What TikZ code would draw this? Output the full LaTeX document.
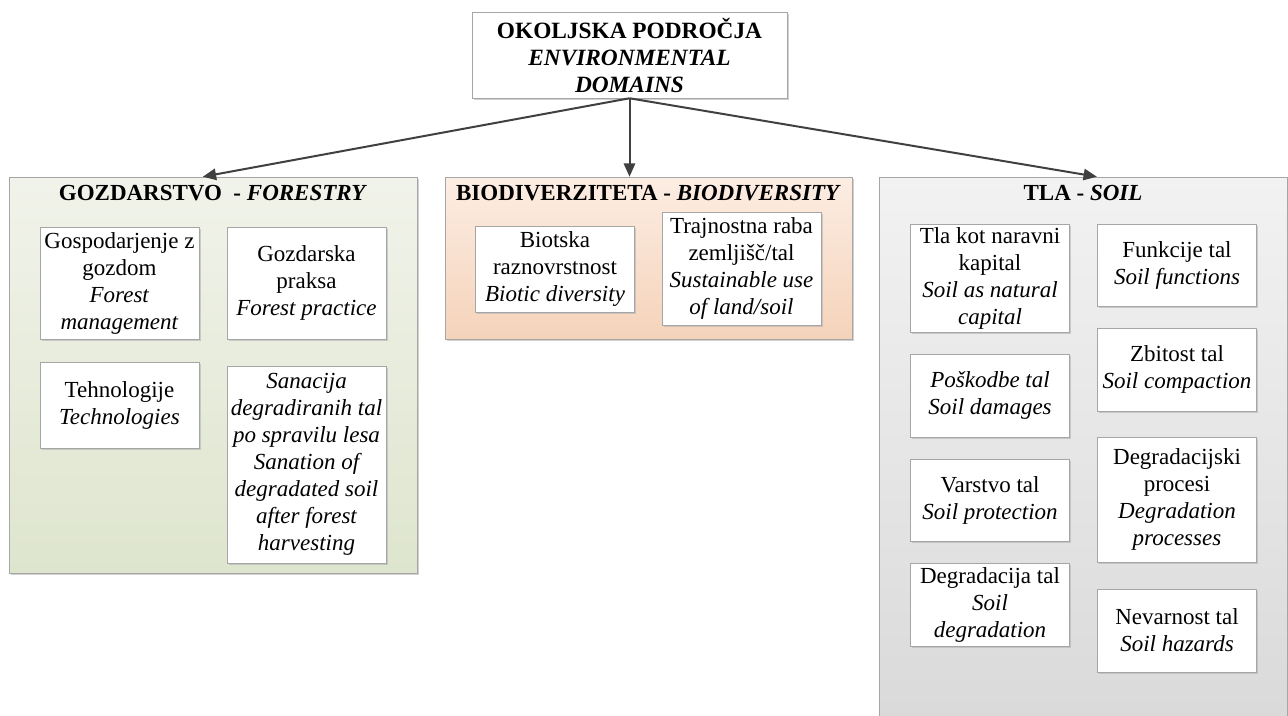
\documentclass[tikz,border=0pt]{standalone}
\usepackage{fontspec}
\setmainfont{Liberation Serif}
\usetikzlibrary{arrows.meta,shadows,calc}
\definecolor{lineC}{HTML}{404040}
\definecolor{boxC}{HTML}{A6A6A6}
\begin{document}
\begin{tikzpicture}[x=0.75pt,y=-0.75pt,
  txt/.style={font=\fontsize{17.25}{20.25}\selectfont},
  sh/.style={drop shadow={shadow xshift=1.2pt,shadow yshift=-1.2pt,fill=black!30,opacity=0.6}},
  item/.style={txt,draw=boxC,fill=white,align=center,inner sep=1pt,minimum width=119.25pt,sh},
  group/.style={draw=boxC,sh},
  title/.style={txt,inner sep=0pt},
  conn/.style={draw=lineC,line width=1.5pt,-{Triangle[length=10pt,width=8.5pt]}}]
\useasboundingbox (0,0) rectangle (1288,715);
\clip (0,0) rectangle (1288,715);
% top
\node[item,minimum width=236.25pt,minimum height=64.5pt,font=\fontsize{17.5}{20.25}\selectfont\bfseries] (top) at (629.5,55)
  {OKOLJSKA PODROČJA\\\textit{ENVIRONMENTAL}\\\textit{DOMAINS}};
% groups
\node[group,top color={rgb,255:red,241;green,243;blue,234},bottom color={rgb,255:red,222;green,229;blue,206},minimum width=306pt,minimum height=297pt] (forestry) at (213,375) {};
\node[group,top color={rgb,255:red,252;green,237;blue,227},bottom color={rgb,255:red,245;green,211;blue,186},minimum width=305.25pt,minimum height=121.5pt] (bio) at (648.5,258) {};
\node[group,top color={rgb,255:red,242;green,242;blue,242},bottom color={rgb,255:red,217;green,217;blue,217},minimum width=306pt,minimum height=418.5pt] (soil) at (1083,456) {};
% titles
\node[title] (tf) at (213,193) {\textbf{GOZDARSTVO\ \ - \textit{FORESTRY}}};
\node[title] (tb) at (648.5,193) {\textbf{BIODIVERZITETA - \textit{BIODIVERSITY}}};
\node[title] (ts) at (1083,193) {\textbf{TLA - \textit{SOIL}}};
% forestry items
\node[item,minimum height=84pt] (f1) at (119.5,283) {Gospodarjenje z\\gozdom\\\textit{Forest}\\\textit{management}};
\node[item,minimum height=84pt] (f2) at (306.5,283) {Gozdarska\\praksa\\\textit{Forest practice}};
\node[item,minimum height=64.5pt] (f3) at (119.5,405) {Tehnologije\\\textit{Technologies}};
\node[item,minimum height=147.75pt] (f4) at (306.5,464.5) {\itshape Sanacija\\\itshape degradiranih tal\\\itshape po spravilu lesa\\\itshape Sanation of\\\itshape degradated soil\\\itshape after forest\\\itshape harvesting};
% bio items
\node[item,minimum height=64.5pt] (b1) at (555,269) {Biotska\\raznovrstnost\\\textit{Biotic diversity}};
\node[item,minimum height=84.75pt] (b2) at (741.5,268.5) {Trajnostna raba\\zemljišč/tal\\\textit{Sustainable use}\\\textit{of land/soil}};
% soil items
\node[item,minimum height=81pt] (s1) at (990,278) {Tla kot naravni\\kapital\\\textit{Soil as natural}\\\textit{capital}};
\node[item,minimum height=62.25pt] (s2) at (990,395.5) {\textit{Poškodbe tal}\\\textit{Soil damages}};
\node[item,minimum height=61.5pt] (s3) at (990,500) {Varstvo tal\\\textit{Soil protection}};
\node[item,minimum height=62.25pt] (s4) at (990,604.5) {Degradacija tal\\\textit{Soil}\\\textit{degradation}};
\node[item,minimum height=61.5pt] (r1) at (1177,265) {Funkcije tal\\\textit{Soil functions}};
\node[item,minimum height=62.25pt] (r2) at (1177,369.5) {Zbitost tal\\\textit{Soil compaction}};
\node[item,minimum height=93.75pt] (r3) at (1177,499.5) {Degradacijski\\procesi\\\textit{Degradation}\\\textit{processes}};
\node[item,minimum height=62.25pt] (r4) at (1177,630.5) {Nevarnost tal\\\textit{Soil hazards}};
% connectors
\draw[conn] (top.south) -- ($(forestry.north west)!0.475!(forestry.north east)$);
\draw[conn] (top.south) -- (top.south |- bio.north);
\draw[conn] (top.south) -- ($(soil.north west)!0.534!(soil.north east)$);
\end{tikzpicture}
\end{document}
